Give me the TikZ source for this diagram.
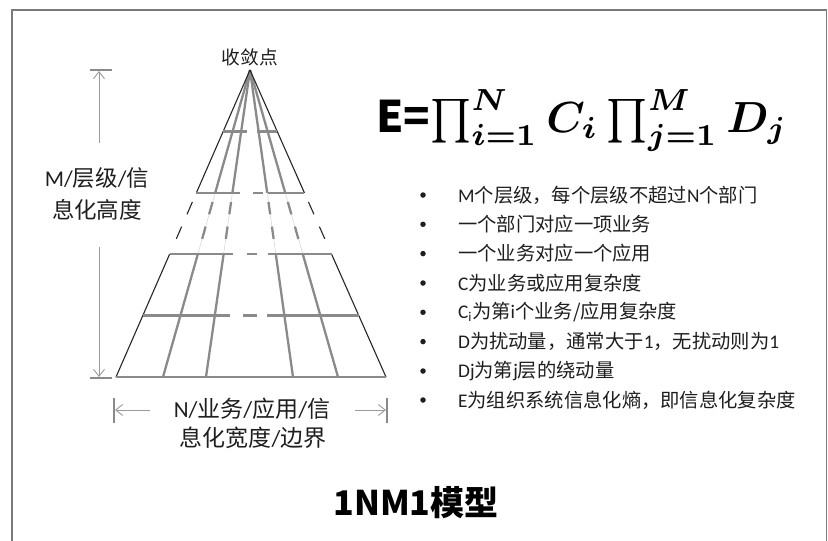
\documentclass[tikz,border=0pt]{standalone}
\usepackage{fontspec}
\usepackage{graphicx}
\setmainfont{Carlito}
\newfontfamily\cjk{Noto Sans CJK SC}
\newfontfamily\lat{Carlito}
\newcommand\Lf[1]{{\lat #1}}
\usetikzlibrary{arrows.meta,calc}
\definecolor{raygray}{HTML}{8A8A8A}
\definecolor{dimgray}{HTML}{9A9A9A}
\definecolor{framegray}{HTML}{7A7A7A}
\definecolor{txt}{HTML}{1E1E1E}
\begin{document}
\begin{tikzpicture}[x=1pt,y=-1pt,
  side/.style={black!85, line width=1.1pt},
  ray/.style={raygray, line width=2.3pt},
  faint/.style={gray!35, line width=0.5pt},
  hline/.style={raygray, line width=2.3pt},
  dimline/.style={dimgray, line width=0.9pt},
  dimtick/.style={raygray, line width=2.2pt},
  tip/.style={-{Straight Barb[length=7pt,width=11pt,line width=0.9pt]}},
  lbl/.style={inner sep=0pt, text=txt, font=\cjk\fontsize{22.5}{26}\selectfont},
  item/.style={inner sep=0pt, anchor=west, text=txt, font=\cjk\fontsize{19.3}{23}\selectfont},
  dot/.style={circle, fill=txt, inner sep=0pt, minimum size=5.5pt}
]
\useasboundingbox (0,0) rectangle (828,541);
\draw[framegray, line width=1.4pt] (12,560) -- (12,10) -- (826.5,10) -- (826.5,560);

% pyramid
\coordinate (A) at (250,70);
\foreach \n/\x in {1/116,2/163,3/206,4/293,5/338,6/386} \coordinate (B\n) at (\x,377);
\foreach \n in {2,...,5} {
  \draw[faint] ($(A)!0.4!(B\n)$) -- ($(A)!0.6!(B\n)$);
  \draw[ray] (A) -- ($(A)!0.4!(B\n)$);
  \draw[ray] ($(A)!0.43!(B\n)$) -- ($(A)!0.47!(B\n)$);
  \draw[ray] ($(A)!0.51!(B\n)$) -- ($(A)!0.55!(B\n)$);
  \draw[ray] ($(A)!0.6!(B\n)$) -- (B\n);
}
\foreach \n in {1,6} {
  \draw[side] (A) -- ($(A)!0.4!(B\n)$);
  \draw[side] ($(A)!0.43!(B\n)$) -- ($(A)!0.47!(B\n)$);
  \draw[side] ($(A)!0.51!(B\n)$) -- ($(A)!0.55!(B\n)$);
  \draw[side] ($(A)!0.6!(B\n)$) -- (B\n);
}
% horizontal levels
\draw[hline] (223.2,131.4) -- (247,131.4) (257,131.4) -- (277.2,131.4);
\draw[hline] (196.4,192.8) -- (240,192.8) (253,192.8) -- (263,192.8) (268,192.8) -- (304.4,192.8);
\draw[hline] (169.6,254.2) -- (233,254.2) (247,254.2) -- (257,254.2) (268,254.2) -- (331.6,254.2);
\draw[hline] (142.8,315.6) -- (230,315.6) (243,315.6) -- (257,315.6) (267,315.6) -- (358.8,315.6);
\draw[hline] (B1) -- (B6);

% height dimension
\draw[dimtick] (90,70) -- (112,70);
\draw[dimtick] (90,378) -- (112,378);
\coordinate (h1) at (99,143);
\coordinate (h2) at (99,71);
\coordinate (h3) at (99,247);
\coordinate (h4) at (99,377);
\draw[dimline,tip] (h1) -- (h2);
\draw[dimline,tip] (h3) -- (h4);
\node[lbl] (m1) at (97,178) {\Lf{M/}层级\Lf{/}信};
\node[lbl] (m2) at (97,210) {息化高度};

% width dimension
\draw[dimtick] (114,398) -- (114,423);
\draw[dimtick] (387,398) -- (387,423);
\coordinate (w1) at (150,410);
\coordinate (w2) at (115,410);
\coordinate (w3) at (355,410);
\coordinate (w4) at (386,410);
\draw[dimline,tip] (w1) -- (w2);
\draw[dimline,tip] (w3) -- (w4);
\node[lbl, font=\cjk\fontsize{23}{26}\selectfont] (n1) at (252,409) {\Lf{N/}业务\Lf{/}应用\Lf{/}信};
\node[lbl, font=\cjk\fontsize{23}{26}\selectfont] (n2) at (253,438) {息化宽度\Lf{/}边界};

% apex label
\node[lbl, font=\cjk\fontsize{18.7}{22}\selectfont] (apex) at (250,57) {收敛点};

% formula
\node[anchor=base west, inner sep=0pt] (F) at (376,132)
  {\resizebox{411pt}{!}{{\cjk\bfseries E=}\boldmath$\prod_{i=1}^{N}C_i\prod_{j=1}^{M}D_j$}};

% bullet list
\foreach \y [count=\k] in {195,224.3,253.6,283,312.3,341.6,371,400} {
  \node[dot] (d\k) at (423,\y) {};
}
\node[item] (t1) at (458,195) {\Lf{M}个层级，每个层级不超过\Lf{N}个部门};
\node[item] (t2) at (458,224.3) {一个部门对应一项业务};
\node[item] (t3) at (458,253.6) {一个业务对应一个应用};
\node[item] (t4) at (458,283) {\Lf{C}为业务或应用复杂度};
\node[item] (t5) at (458,312.3) {\Lf{C\textsubscript{i}}为第\Lf{i}个业务/应用复杂度};
\node[item] (t6) at (458,341.6) {\Lf{D}为扰动量，通常大于\Lf{1}，无扰动则为\Lf{1}};
\node[item] (t7) at (458,371) {\Lf{Dj}为第\Lf{j}层的绕动量};
\node[item] (t8) at (458,400) {\Lf{E}为组织系统信息化熵，即信息化复杂度};

% title
\node[inner sep=0pt, text=black, font=\cjk\bfseries\fontsize{34}{40}\selectfont] (title) at (416,503) {1NM1模型};
\end{tikzpicture}
\end{document}
